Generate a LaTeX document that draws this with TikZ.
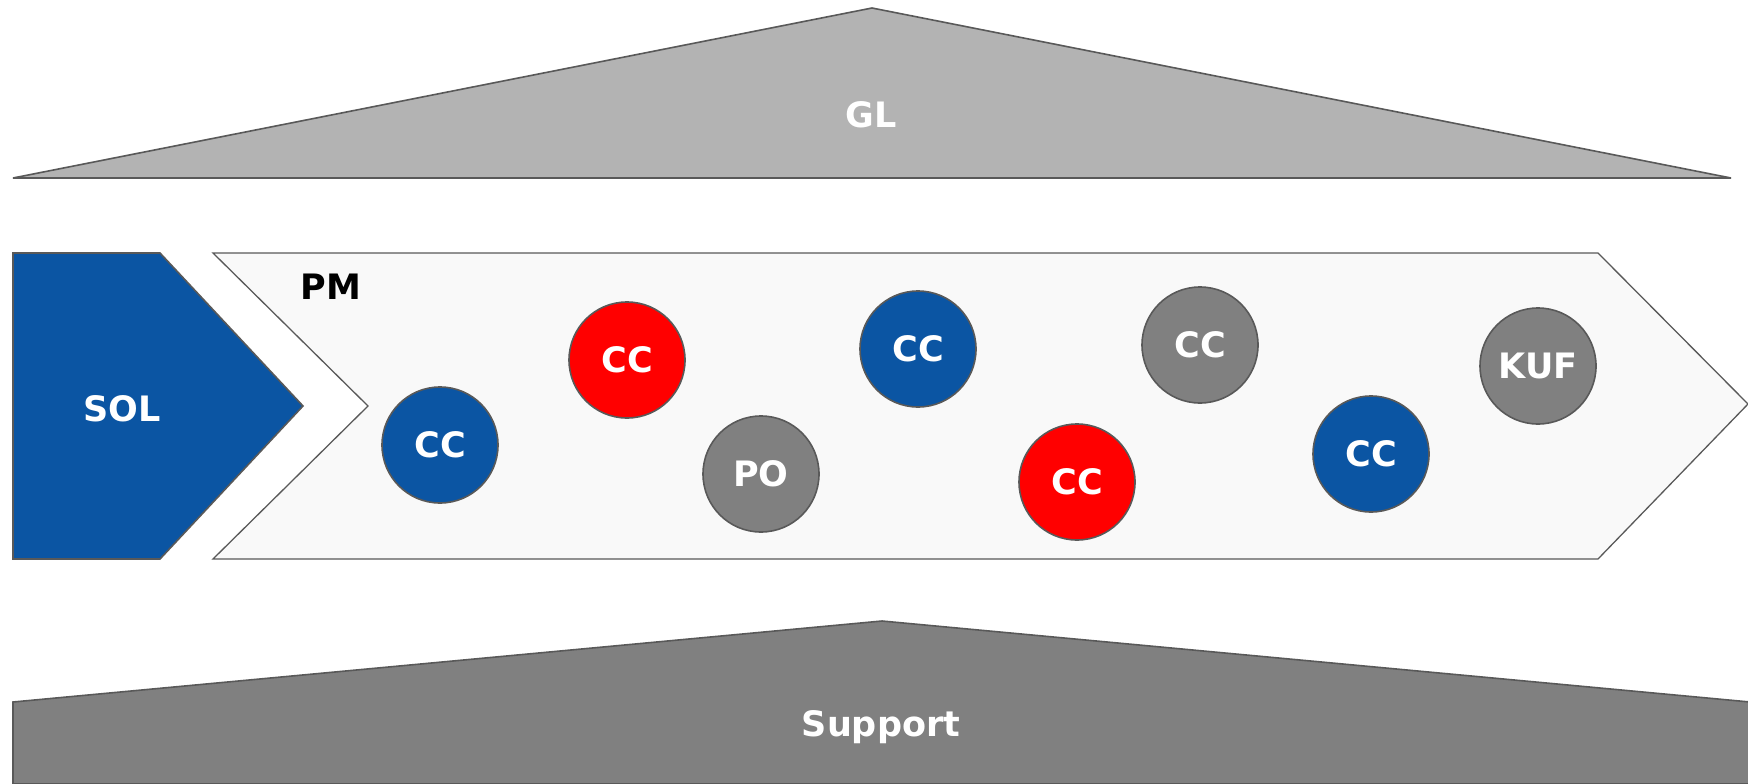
\documentclass[tikz,border=0pt]{standalone}
\usepackage{fontspec}
\setmainfont{DejaVu Sans}
\definecolor{sblue}{HTML}{0B55A3}
\definecolor{sred}{HTML}{FF0000}
\definecolor{sgray}{HTML}{808080}
\definecolor{lgray}{HTML}{B3B3B3}
\definecolor{edge}{HTML}{595959}
\definecolor{pmfill}{HTML}{F9F9F9}
\tikzset{
  shapeline/.style={draw=edge, line width=1.6pt, line join=miter},
  lbl/.style={font=\fontsize{35}{40}\selectfont\bfseries, text=white, inner sep=0pt,
              text height=25.5pt, text depth=0pt},
  ball/.style={circle, draw=edge, line width=1.6pt, minimum size=116pt, inner sep=0pt,
               font=\fontsize{35}{40}\selectfont\bfseries, text=white},
  blueball/.style={ball, fill=sblue},
  redball/.style={ball, fill=sred},
  grayball/.style={ball, fill=sgray}
}
\begin{document}
\begin{tikzpicture}[x=1pt,y=-1pt]
\useasboundingbox (0,0) rectangle (1748,784);
% GL triangle
\path[shapeline, fill=lgray] (13,178) -- (872,8) -- (1731,178) -- cycle;
\node[lbl] (gl) at (871,115) {GL};
% SOL pentagon
\path[shapeline, fill=sblue] (13,253) -- (160,253) -- (303,406) -- (160,559) -- (13,559) -- cycle;
\node[lbl] (sol) at (122,409) {SOL};
% PM chevron
\path[shapeline, line width=1.3pt, fill=pmfill] (213,253) -- (1598,253) -- (1748,404) -- (1598,559) -- (213,559) -- (368,406) -- cycle;
\node[lbl, text=black] (pm) at (331,287) {PM};
% Support
\path[shapeline, fill=sgray] (13,784) -- (13,702) -- (882,621) -- (1750,702) -- (1750,784) -- cycle;
\node[lbl] (sup) at (881,724) {Support};
% circles
\node[blueball] (c1) at (440,445) {CC};
\node[redball] (c2) at (627,360) {CC};
\node[grayball] (po) at (761,474) {PO};
\node[blueball] (c3) at (918,349) {CC};
\node[redball] (c4) at (1077,482) {CC};
\node[grayball] (c5) at (1200,345) {CC};
\node[blueball] (c6) at (1371,454) {CC};
\node[grayball] (kuf) at (1538,366) {KUF};
\end{tikzpicture}
\end{document}
